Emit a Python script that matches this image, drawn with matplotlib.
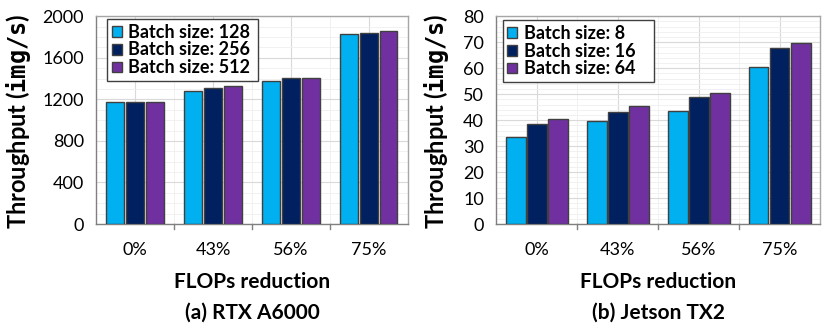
import numpy as np
import matplotlib.pyplot as plt
from matplotlib.ticker import MultipleLocator

plt.rcParams['font.family'] = ['Lato', 'DejaVu Sans']
plt.rcParams['mathtext.fontset'] = 'custom'
plt.rcParams['mathtext.tt'] = 'DejaVu Sans Mono:bold'

categories = ['0%', '43%', '56%', '75%']

a6000_labels = ['Batch size: 128', 'Batch size: 256', 'Batch size: 512']
a6000_vals = [
    [1173, 1279, 1381, 1824],
    [1175, 1310, 1406, 1842],
    [1175, 1326, 1409, 1860],
]

tx2_labels = ['Batch size: 8', 'Batch size: 16', 'Batch size: 64']
tx2_vals = [
    [33.5, 39.6, 43.6, 60.5],
    [38.6, 43.2, 49.0, 67.6],
    [40.3, 45.4, 50.4, 69.5],
]

colors = ['#00B0F0', '#002060', '#7030A0']

fig = plt.figure(figsize=(8.3, 3.3), dpi=100)
ax1 = fig.add_axes([0.116, 0.321, 0.375, 0.630])
ax2 = fig.add_axes([0.598, 0.321, 0.390, 0.630])


def draw(ax, vals, labels, ymax, major, minor, width, step, caption,
         leg_box, ylab_x):
    x = np.arange(len(categories))
    for i, (v, lab, c) in enumerate(zip(vals, labels, colors)):
        ax.bar(x + (i - 1) * step, v, width, color=c, edgecolor='#404040',
               linewidth=1.0, label=lab, zorder=3)
    ax.set_xlim(-0.5, len(categories) - 0.5)
    ax.set_ylim(0, ymax)
    ax.yaxis.set_major_locator(MultipleLocator(major))
    ax.yaxis.set_minor_locator(MultipleLocator(minor))
    ax.set_xticks(x)
    ax.set_xticklabels(categories, fontsize=13)
    ax.set_xticks(np.arange(-0.5, len(categories), 0.5), minor=True)
    ax.tick_params(axis='x', which='major', length=0, pad=13)
    ax.tick_params(axis='x', which='minor', length=0)
    ax.tick_params(axis='y', which='both', length=0, labelsize=13, pad=9)
    for b in np.arange(0.5, len(categories) - 0.5, 1.0):
        ax.plot([b, b], [0, -0.025 * ymax], color='#808080', lw=1,
                clip_on=False, zorder=4)
    ax.grid(True, which='major', color='#d9d9d9', lw=0.8, zorder=0)
    ax.grid(True, which='minor', color='#efefef', lw=0.6, zorder=0)
    ax.set_axisbelow(True)
    for s in ax.spines.values():
        s.set_color('#a6a6a6')
        s.set_linewidth(1.0)
    ax.spines['left'].set_color('#808080')
    ax.spines['bottom'].set_color('#808080')
    fig.text(ylab_x, 0.632, r'Throughput ($\mathtt{img/s}$)', rotation=90,
             ha='center', va='center', fontsize=17, fontweight='bold')
    ax.text(0.5, -0.279, 'FLOPs reduction', transform=ax.transAxes,
            ha='center', va='center', fontsize=15, fontweight='bold')
    ax.text(0.5, -0.428, caption, transform=ax.transAxes, ha='center',
            va='center', fontsize=15, fontweight='bold')
    leg = ax.legend(loc='upper left', bbox_to_anchor=leg_box, mode='expand',
                    prop={'weight': 'bold', 'size': 13}, frameon=True,
                    fancybox=False, framealpha=1, edgecolor='#404040',
                    handlelength=0.55, handleheight=0.55, handletextpad=0.35,
                    labelspacing=0.05, borderpad=0.25, borderaxespad=0.0)
    leg.get_frame().set_linewidth(1.0)


draw(ax1, a6000_vals, a6000_labels, 2000, 400, 100, 0.23, 0.255,
     '(a) RTX A6000', (0.035, 0.69, 0.483, 0.296), 19 / 830)
draw(ax2, tx2_vals, tx2_labels, 80, 10, 2, 0.245, 0.26,
     '(b) Jetson TX2', (0.02, 0.69, 0.466, 0.291), 436 / 830)

fig.savefig('out.png', dpi=100)
